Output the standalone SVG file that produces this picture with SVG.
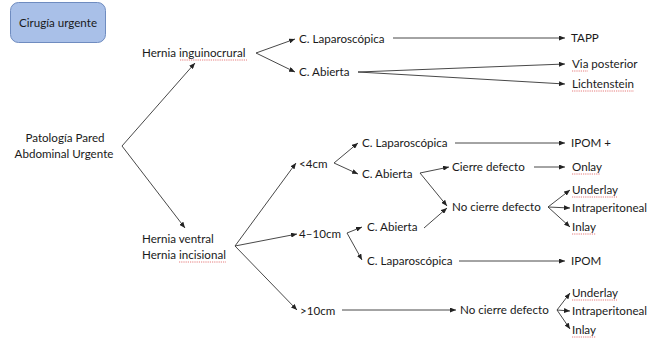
<svg xmlns="http://www.w3.org/2000/svg" width="659" height="346" viewBox="0 0 659 346">
<style>
text{font-family:Lato,"Liberation Sans",Arial,sans-serif;font-size:11.6px;fill:#1a1a1a}
.c{fill:none;stroke:#333;stroke-width:0.9}
.a{marker-end:url(#ah)}
.sp{fill:none;stroke:#e05a5a;stroke-width:0.8;stroke-dasharray:1.2,1}
</style>
<defs>
<marker id="ah" markerUnits="userSpaceOnUse" markerWidth="6" markerHeight="5" refX="6" refY="2.5" orient="auto">
<path d="M0,0 L6,2.5 L0,5 z" fill="#222"/>
</marker>
</defs>
<rect width="659" height="346" fill="#fff"/>
<g id="connectors">
<path class="c a" d="M122,146 L195,63"/>
<path class="c a" d="M122,146 L185,228"/>
<path class="c a" d="M256,53 L295,39"/>
<path class="c a" d="M256,53 L295,72"/>
<path class="c a" d="M393,38 L565,38"/>
<path class="c a" d="M358,72 L565,64"/>
<path class="c a" d="M358,72 L565,84"/>
<path class="c a" d="M235,246 L296,163"/>
<path class="c a" d="M235,246 L297,234"/>
<path class="c a" d="M235,246 L297,310"/>
<path class="c a" d="M334,163 L358,143"/>
<path class="c a" d="M334,163 L358,174"/>
<path class="c a" d="M455,143 L565,143"/>
<path class="c a" d="M420,173 L449,167"/>
<path class="c a" d="M420,173 L447,206"/>
<path class="c a" d="M534,167 L565,167"/>
<path class="c a" d="M347,233 L362,227"/>
<path class="c a" d="M347,233 L362,260"/>
<path class="c a" d="M424,228 L447,208"/>
<path class="c a" d="M459,261 L565,261"/>
<path class="c a" d="M548,207 L570,190"/>
<path class="c a" d="M548,207 L570,208"/>
<path class="c a" d="M548,207 L570,227"/>
<path class="c a" d="M342,310 L456,310"/>
<path class="c a" d="M557,310 L570,293"/>
<path class="c a" d="M557,310 L570,311"/>
<path class="c a" d="M557,310 L570,329"/>
</g>
<g id="box-cirugia">
<rect x="10.5" y="2.5" width="95" height="40" rx="8" fill="#a9c0e8" stroke="#6f8cc0" stroke-width="1"/>
<text x="58" y="26.5" text-anchor="middle">Cirugía urgente</text>
</g>
<g id="n-root">
<text x="65" y="142" text-anchor="middle">Patología Pared</text>
<text x="64" y="158" text-anchor="middle">Abdominal Urgente</text>
</g>
<g id="n-inguino">
<text x="142" y="57">Hernia inguinocrural</text>
<path class="sp" d="M180,60 L247,60"/>
</g>
<g id="n-ventral">
<text x="142" y="243">Hernia ventral</text>
<text x="142" y="259">Hernia incisional</text>
<path class="sp" d="M179,262 L226,262"/>
</g>
<g id="n-lap1"><text x="299" y="43">C. Laparoscópica</text></g>
<g id="n-abi1"><text x="299" y="76">C. Abierta</text></g>
<g id="n-tapp"><text x="571" y="42">TAPP</text></g>
<g id="n-via"><text x="572" y="68">Via posterior</text><path class="sp" d="M572,71 L588,71"/></g>
<g id="n-licht"><text x="572" y="88">Lichtenstein</text><path class="sp" d="M572,91 L634,91"/></g>
<g id="n-lt4"><text x="299" y="168">&lt;4cm</text></g>
<g id="n-4to10"><text x="299" y="238">4–10cm</text></g>
<g id="n-gt10"><text x="300" y="315">&gt;10cm</text></g>
<g id="n-lap2"><text x="362" y="147">C. Laparoscópica</text></g>
<g id="n-abi2"><text x="362" y="178">C. Abierta</text></g>
<g id="n-ipomplus"><text x="571" y="147">IPOM +</text></g>
<g id="n-cierre"><text x="452" y="171">Cierre defecto</text></g>
<g id="n-onlay"><text x="572" y="171">Onlay</text><path class="sp" d="M572,174 L600,174"/></g>
<g id="n-nocierre1"><text x="452" y="211">No cierre defecto</text></g>
<g id="n-abi3"><text x="367" y="231">C. Abierta</text></g>
<g id="n-lap3"><text x="367" y="265">C. Laparoscópica</text></g>
<g id="n-ipom"><text x="571" y="265">IPOM</text></g>
<g id="n-under1"><text x="572" y="194">Underlay</text><path class="sp" d="M572,197 L617,197"/></g>
<g id="n-intra1"><text x="572" y="212">Intraperitoneal</text></g>
<g id="n-inlay1"><text x="572" y="231">Inlay</text><path class="sp" d="M572,234 L596,234"/></g>
<g id="n-nocierre2"><text x="460" y="314">No cierre defecto</text></g>
<g id="n-under2"><text x="572" y="297">Underlay</text><path class="sp" d="M572,300 L617,300"/></g>
<g id="n-intra2"><text x="572" y="315">Intraperitoneal</text></g>
<g id="n-inlay2"><text x="572" y="334">Inlay</text><path class="sp" d="M572,337 L596,337"/></g>
</svg>
